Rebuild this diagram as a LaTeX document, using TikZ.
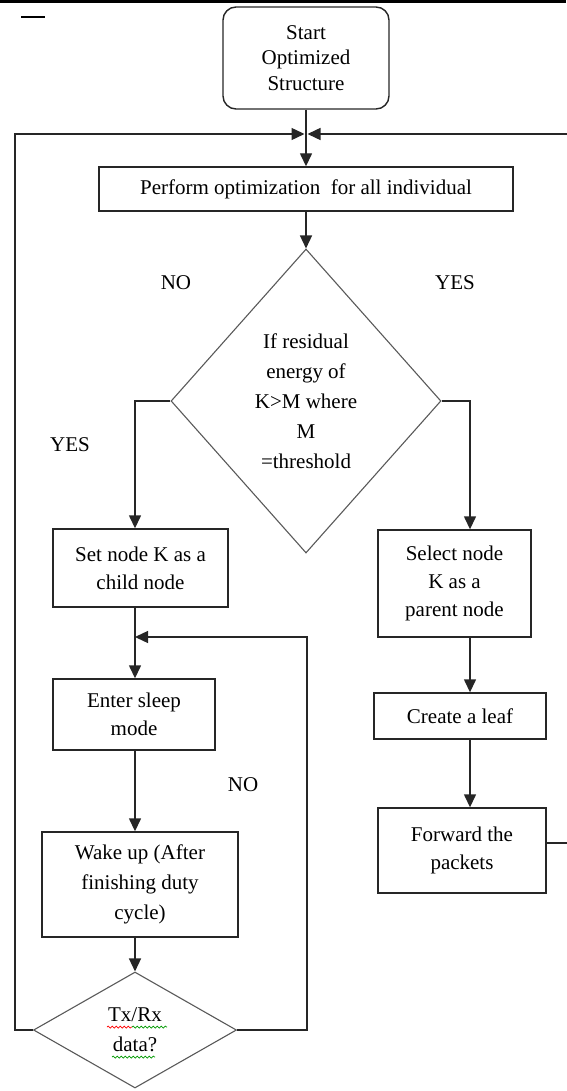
\documentclass[tikz,border=0pt]{standalone}
\usepackage{fontspec}
\setmainfont{Liberation Serif}
\usetikzlibrary{shapes,arrows,positioning,calc,decorations.pathmorphing,arrows.meta}

\begin{document}
\begin{tikzpicture}[x=1pt, y=-1pt,
    fc box/.style={rectangle, draw=black!85, line width=1.4pt, align=center, inner sep=0pt, font=\fontsize{21}{28}\selectfont},
    fc start/.style={fc box, rounded corners=13pt},
    fc decision/.style={diamond, draw=black!65, line width=1.1pt, align=center, inner sep=0pt, font=\fontsize{21}{30}\selectfont},
    fc arrow/.style={-{Triangle[length=13pt,width=12pt]}, line width=1.4pt, draw=black!85},
    fc label/.style={font=\fontsize{21}{28}\selectfont},
    fc squiggle/.style={line width=0.7pt, decorate, decoration={snake, amplitude=1pt, segment length=4pt}}]

    \useasboundingbox (0,0) rectangle (566,1091);
    \fill (0,0) rectangle (566,3);
    \draw [line width=2pt] (21,17) -- (45,17);

    \node [fc start, minimum width=166pt, minimum height=102pt, font=\fontsize{21}{25.5}\selectfont] (start) at (306,58) {Start\\Optimized\\Structure};
    \node [fc box, minimum width=414pt, minimum height=44pt] (perform) at (306,189) {Perform optimization\ \ for all individual};
    \node [fc decision, minimum width=270pt, minimum height=304pt] (decide) at (306,401) {If residual\\energy of\\K>M where\\M\\=threshold};
    \node [fc box, minimum width=175pt, minimum height=78pt] (child) at (140.5,568) {Set node K as a\\child node};
    \node [fc box, minimum width=162pt, minimum height=71pt] (sleep) at (134,714.5) {Enter sleep\\mode};
    \node [fc box, minimum width=196pt, minimum height=105pt, font=\fontsize{21}{30}\selectfont] (wake) at (140,884.5) {Wake up (After\\finishing duty\\cycle)};
    \node [fc decision, minimum width=203pt, minimum height=116pt] (txrx) at (135,1030) {Tx/Rx\\data?};
    \node [fc box, minimum width=153pt, minimum height=107pt] (parent) at (454.5,583.5) {Select node\\K as a\\parent node};
    \node [fc box, minimum width=172pt, minimum height=46pt] (leaf) at (460,716) {Create a leaf};
    \node [fc box, minimum width=168pt, minimum height=85pt] (forward) at (462,850.5) {Forward the\\packets};

    \node [fc label] (no1) at (176,283) {NO};
    \node [fc label] (yes1) at (455,283) {YES};
    \node [fc label] (yes2) at (70,445) {YES};
    \node [fc label] (no2) at (243,785) {NO};

    \coordinate (lcol) at (135,0);
    \coordinate (rcol) at (470,0);
    \coordinate (merge) at (306,134);
    \coordinate (lloop) at (15,134);
    \coordinate (rloop) at (570,134);
    \coordinate (noloop) at (307,637);

    \draw [fc arrow] (start) -- (perform);
    \draw [fc arrow, shorten >=1.5pt] (txrx.west) -| (lloop) -- (merge);
    \draw [fc arrow, shorten >=1.5pt] ([yshift=7.5pt]forward.east) -| (rloop) -- (merge);
    \draw [fc arrow] (perform) -- (decide);
    \draw [fc arrow] (decide.west) -| (lcol |- child.north);
    \draw [fc arrow] (decide.east) -| (rcol |- parent.north);
    \draw [fc arrow] (lcol |- child.south) -- (lcol |- sleep.north);
    \draw [fc arrow] (lcol |- sleep.south) -- (lcol |- wake.north);
    \draw [fc arrow] (lcol |- wake.south) -- (txrx.north);
    \draw [fc arrow] (txrx.east) -| (noloop) -- (lcol |- noloop);
    \draw [fc arrow] (rcol |- parent.south) -- (rcol |- leaf.north);
    \draw [fc arrow] (rcol |- leaf.south) -- (rcol |- forward.north);

    % spell-check marks under the Tx/Rx text
    \draw [fc squiggle, red] ($(txrx)+(-28,-3)$) -- ($(txrx)+(-3,-3)$);
    \draw [fc squiggle, green!60!black] ($(txrx)+(-3,-3)$) -- ($(txrx)+(32,-3)$);
    \draw [fc squiggle, green!60!black] ($(txrx)+(-23,27)$) -- ($(txrx)+(20,27)$);
\end{tikzpicture}
\end{document}
